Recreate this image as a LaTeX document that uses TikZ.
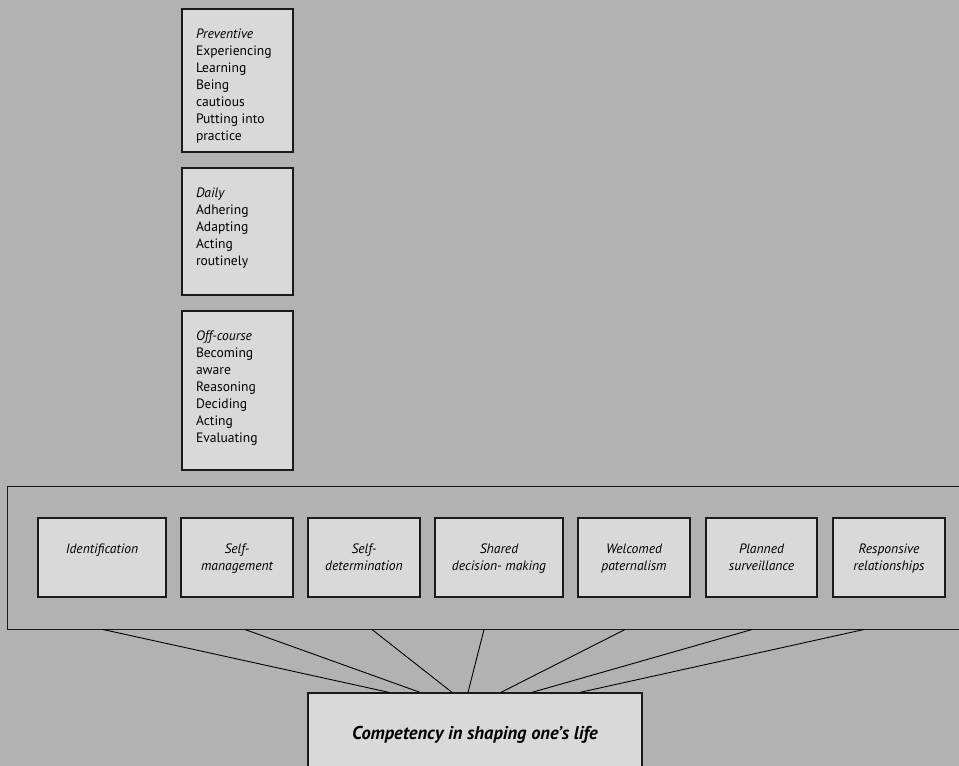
\documentclass[tikz,border=0pt]{standalone}
\usepackage{fontspec}
\setmainfont{PT Sans}
\usetikzlibrary{calc}

\definecolor{canvas}{HTML}{B2B2B2}
\definecolor{boxfill}{HTML}{D9D9D9}
\definecolor{edge}{HTML}{1A1A1A}

% text block pinned to the top of a box: height, width, content
\newcommand\toptext[3]{\parbox[c][#1][t]{#2}{\fontsize{13.6}{17}\selectfont#3}}

\begin{document}
\begin{tikzpicture}[x=1pt,y=-1pt,
  panel/.style={draw=edge, fill=boxfill, line width=1.3pt, inner sep=0pt},
  stagebox/.style={panel, inner xsep=14pt, minimum width=111pt},
  aspect/.style={panel, minimum height=79pt},
  band/.style={draw=edge, line width=1pt, inner sep=0pt},
  link/.style={draw=black, line width=0.9pt}
]
\fill[canvas] (0,0) rectangle (959,766);
\useasboundingbox (0,0) rectangle (959,766);
\clip (0,0) rectangle (959,766);

% stages of the process
\node[stagebox, minimum height=143pt] (prev) at (237.5,80.5)
  {\toptext{143pt}{83pt}{\raggedright\rule{0pt}{29.5pt}\textit{Preventive}\\Experiencing\\Learning\\Being\\cautious\\Putting into\\practice}};
\node[stagebox, minimum height=127pt] (daily) at (237.5,231.5)
  {\toptext{127pt}{83pt}{\raggedright\rule{0pt}{29.5pt}\textit{Daily}\\Adhering\\Adapting\\Acting\\routinely}};
\node[stagebox, minimum height=159pt] (off) at (237.5,390.5)
  {\toptext{159pt}{83pt}{\raggedright\rule{0pt}{29.5pt}\textit{Off-course}\\Becoming\\aware\\Reasoning\\Deciding\\Acting\\Evaluating}};

% band holding the seven aspects
\node[band, minimum width=980pt, minimum height=143pt] (band) at (497,557.5) {};

\node[aspect, minimum width=128pt] (ident) at (102,557.5)
  {\toptext{79pt}{128pt}{\centering\itshape\rule{0pt}{35pt}Identification}};
\node[aspect, minimum width=112pt] (selfman) at (237,557.5)
  {\toptext{79pt}{112pt}{\centering\itshape\rule{0pt}{35pt}Self-\\management}};
\node[aspect, minimum width=112pt] (selfdet) at (364,557.5)
  {\toptext{79pt}{112pt}{\centering\itshape\rule{0pt}{35pt}Self-\\determination}};
\node[aspect, minimum width=128pt] (shared) at (499,557.5)
  {\toptext{79pt}{128pt}{\centering\itshape\rule{0pt}{35pt}Shared\\decision- making}};
\node[aspect, minimum width=112pt] (welcome) at (634,557.5)
  {\toptext{79pt}{112pt}{\centering\itshape\rule{0pt}{35pt}Welcomed\\paternalism}};
\node[aspect, minimum width=111pt] (planned) at (761.5,557.5)
  {\toptext{79pt}{111pt}{\centering\itshape\rule{0pt}{35pt}Planned\\surveillance}};
\node[aspect, minimum width=112pt] (respons) at (889,557.5)
  {\toptext{79pt}{112pt}{\centering\itshape\rule{0pt}{35pt}Responsive\\relationships}};

% overall outcome
\node[panel, minimum width=334pt, minimum height=107pt] (goal) at (475,746.5)
  {\parbox[c][107pt][t]{334pt}{\centering\fontsize{18.5}{22}\selectfont\bfseries\itshape\rule{0pt}{46.5pt}Competency in shaping one’s life}};

% links from the band to the outcome
\draw[link] (band.south -| 103,0) -- (goal.north -| 389,0);
\draw[link] (band.south -| 245,0) -- (goal.north -| 420,0);
\draw[link] (band.south -| 372,0) -- (goal.north -| 452,0);
\draw[link] (band.south -| 484,0) -- (goal.north -| 468,0);
\draw[link] (band.south -| 625,0) -- (goal.north -| 501,0);
\draw[link] (band.south -| 752,0) -- (goal.north -| 532,0);
\draw[link] (band.south -| 864,0) -- (goal.north -| 580,0);
\end{tikzpicture}
\end{document}
